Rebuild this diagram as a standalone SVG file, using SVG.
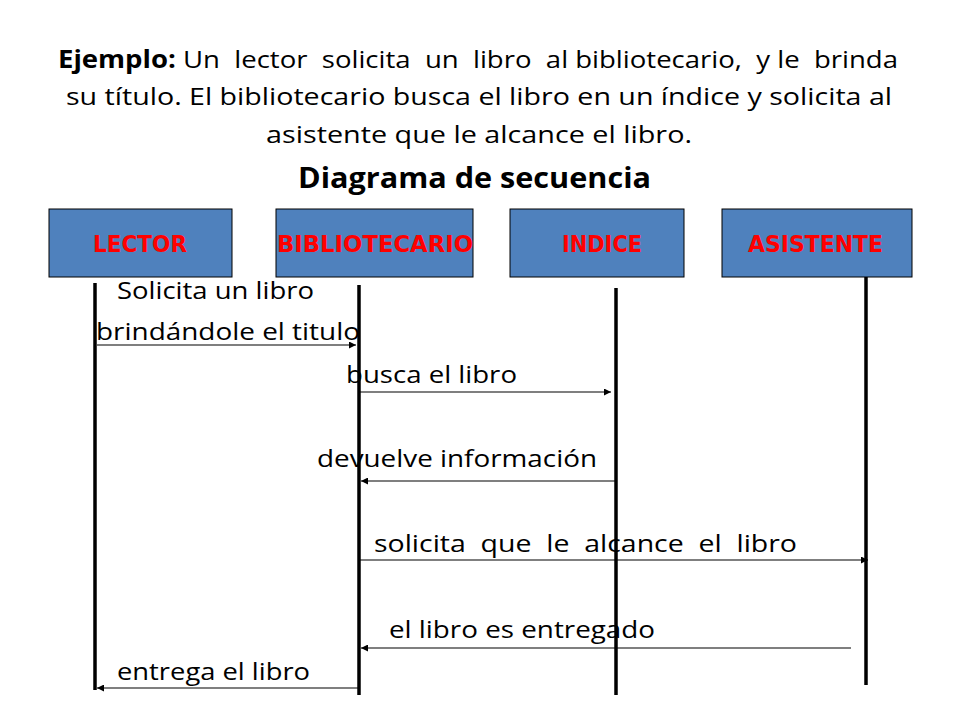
<svg xmlns="http://www.w3.org/2000/svg" width="960" height="720" viewBox="0 0 960 720">
<defs>
<marker id="ah" viewBox="0 0 10 10" refX="10" refY="5" markerWidth="9" markerHeight="7" markerUnits="userSpaceOnUse" orient="auto">
<path d="M0,0 L10,5 L0,10 z" fill="#000"/>
</marker>
<style>
.t{font-family:"Open Sans","Noto Sans","Liberation Sans",sans-serif;font-size:24.5px;fill:#000;white-space:pre;font-variant-ligatures:none}
.b{font-weight:bold}
.box{fill:#4F81BD;stroke:#000;stroke-width:1}
.lbl{font-family:"DejaVu Sans",Verdana,sans-serif;font-weight:bold;font-size:23px;fill:#FF0000}
.life{stroke:#000;stroke-width:3.5;fill:none}
.msg{stroke:#000;stroke-width:1.2;fill:none;marker-end:url(#ah)}
</style>
</defs>
<rect width="960" height="720" fill="#fff"/>
<g id="title">
<text class="t" x="58" y="68" textLength="840" lengthAdjust="spacingAndGlyphs"><tspan class="b">Ejemplo:</tspan> Un  lector  solicita  un  libro  al bibliotecario,  y le  brinda</text>
<text class="t" x="66" y="105" textLength="826" lengthAdjust="spacingAndGlyphs">su título. El bibliotecario busca el libro en un índice y solicita al</text>
<text class="t" x="266" y="143" textLength="426" lengthAdjust="spacingAndGlyphs">asistente que le alcance el libro.</text>
<text class="t b" x="298" y="188" style="font-size:29px" textLength="353" lengthAdjust="spacingAndGlyphs">Diagrama de secuencia</text>
</g>
<g id="lector">
<rect class="box" x="49" y="209" width="183" height="68"/>
<text class="lbl" x="93" y="252" textLength="94" lengthAdjust="spacingAndGlyphs">LECTOR</text>
<line class="life" x1="95" y1="283" x2="95" y2="690"/>
</g>
<g id="bibliotecario">
<rect class="box" x="276" y="209" width="197" height="68"/>
<text class="lbl" x="277" y="252" textLength="196" lengthAdjust="spacingAndGlyphs">BIBLIOTECARIO</text>
<line class="life" x1="359" y1="285" x2="359" y2="695"/>
</g>
<g id="indice">
<rect class="box" x="510" y="209" width="174" height="68"/>
<text class="lbl" x="562" y="252" textLength="80" lengthAdjust="spacingAndGlyphs">INDICE</text>
<line class="life" x1="616" y1="288" x2="616" y2="695"/>
</g>
<g id="asistente">
<rect class="box" x="722" y="209" width="190" height="68"/>
<text class="lbl" x="748" y="252" textLength="135" lengthAdjust="spacingAndGlyphs">ASISTENTE</text>
<line class="life" x1="866" y1="277" x2="866" y2="685"/>
</g>
<g id="connectors">
<line class="msg" x1="97" y1="345" x2="356" y2="345"/>
<line class="msg" x1="360" y1="392" x2="611" y2="392"/>
<line class="msg" x1="615" y1="481" x2="361" y2="481"/>
<line class="msg" x1="360" y1="560" x2="868" y2="560"/>
<line class="msg" x1="851" y1="648" x2="361" y2="648"/>
<line class="msg" x1="359" y1="688" x2="97" y2="688"/>
</g>
<g id="labels">
<text class="t" x="117" y="299" textLength="197" lengthAdjust="spacingAndGlyphs">Solicita un libro</text>
<text class="t" x="96" y="340" textLength="264" lengthAdjust="spacingAndGlyphs">brindándole el titulo</text>
<text class="t" x="346" y="383" textLength="171" lengthAdjust="spacingAndGlyphs">busca el libro</text>
<text class="t" x="317" y="467" textLength="280" lengthAdjust="spacingAndGlyphs">devuelve información</text>
<text class="t" x="374" y="552" textLength="423" lengthAdjust="spacingAndGlyphs">solicita  que  le  alcance  el  libro</text>
<text class="t" x="389" y="638" textLength="266" lengthAdjust="spacingAndGlyphs">el libro es entregado</text>
<text class="t" x="117" y="680" textLength="193" lengthAdjust="spacingAndGlyphs">entrega el libro</text>
</g>
</svg>
